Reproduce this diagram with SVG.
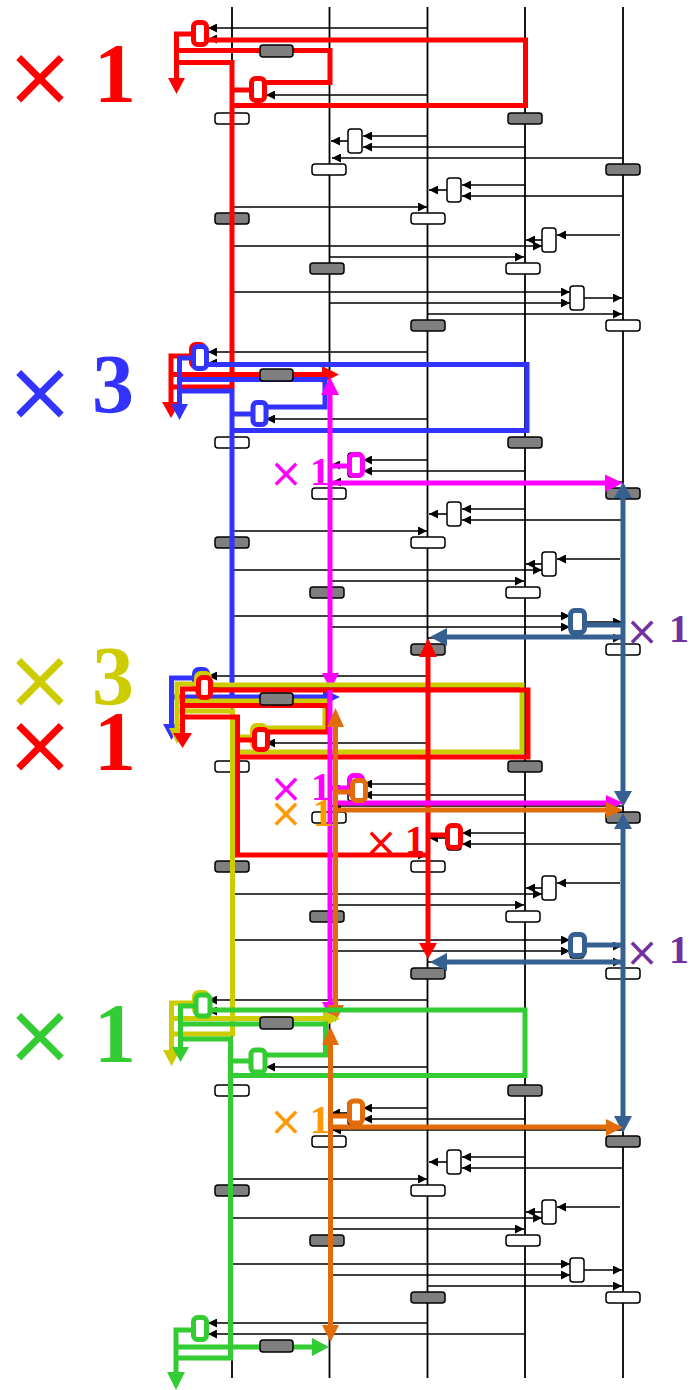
<svg xmlns="http://www.w3.org/2000/svg" width="693" height="1390" viewBox="0 0 693 1390">
<style>
.ll{stroke:#000;stroke-width:1.8}
.m{stroke:#000;stroke-width:1.6;fill:none;marker-end:url(#ah)}
.g{fill:#7f7f7f;stroke:#000;stroke-width:1.5}
.w{fill:#fff;stroke:#000;stroke-width:1.5}
.c{fill:none;stroke-width:5}
.cb{fill:#fff;stroke-width:5}
.t{stroke:none}
.x{font-family:"DejaVu Sans",sans-serif;font-weight:normal}
.n{font-family:"Liberation Serif",serif;font-weight:bold}
</style>
<defs>
<marker id="ah" viewBox="0 0 10 10" refX="10" refY="5" markerWidth="9" markerHeight="9" markerUnits="userSpaceOnUse" orient="auto"><path d="M0 0L10 5L0 10z" fill="#000"/></marker>
</defs>
<rect width="693" height="1390" fill="#fff"/>
<g id="lifelines">
<line class="ll" x1="232" y1="7" x2="232" y2="1378"/>
<line class="ll" x1="329.5" y1="7" x2="329.5" y2="1378"/>
<line class="ll" x1="427.5" y1="7" x2="427.5" y2="1378"/>
<line class="ll" x1="525" y1="7" x2="525" y2="1378"/>
<line class="ll" x1="623" y1="7" x2="623" y2="1378"/>
</g>
<g id="connectors">
<g id="blk1">
<path class="m" d="M428 28H208"/><path class="m" d="M525 39H208"/><path class="m" d="M428 95H266"/>
<path class="m" d="M428 136H363"/><path class="m" d="M525 147H363"/><path class="m" d="M348 141H331"/>
<path class="m" d="M623 158H332"/><path class="m" d="M525 185H462"/><path class="m" d="M623 196H462"/>
<path class="m" d="M447 190H429"/><path class="m" d="M232 207H427"/><path class="m" d="M620 235H557"/>
<path class="m" d="M542 240H526"/><path class="m" d="M232 246H542"/><path class="m" d="M330 257H524"/>
<path class="m" d="M232 292H570"/><path class="m" d="M330 303H570"/><path class="m" d="M584 298H622"/>
<path class="m" d="M428 314H622"/>
</g>
<g id="blk2" transform="translate(0,324)">
<path class="m" d="M428 28H208"/><path class="m" d="M525 39H208"/><path class="m" d="M428 95H266"/>
<path class="m" d="M428 136H363"/><path class="m" d="M525 147H363"/><path class="m" d="M348 141H331"/>
<path class="m" d="M623 158H332"/><path class="m" d="M525 185H462"/><path class="m" d="M623 196H462"/>
<path class="m" d="M447 190H429"/><path class="m" d="M232 207H427"/><path class="m" d="M620 235H557"/>
<path class="m" d="M542 240H526"/><path class="m" d="M232 246H542"/><path class="m" d="M330 257H524"/>
<path class="m" d="M232 292H570"/><path class="m" d="M330 303H570"/><path class="m" d="M584 298H622"/>
<path class="m" d="M428 314H622"/>
</g>
<g id="blk3" transform="translate(0,648)">
<path class="m" d="M428 28H208"/><path class="m" d="M525 39H208"/><path class="m" d="M428 95H266"/>
<path class="m" d="M428 136H363"/><path class="m" d="M525 147H363"/><path class="m" d="M348 141H331"/>
<path class="m" d="M623 158H332"/><path class="m" d="M525 185H462"/><path class="m" d="M623 196H462"/>
<path class="m" d="M447 190H429"/><path class="m" d="M232 207H427"/><path class="m" d="M620 235H557"/>
<path class="m" d="M542 240H526"/><path class="m" d="M232 246H542"/><path class="m" d="M330 257H524"/>
<path class="m" d="M232 292H570"/><path class="m" d="M330 303H570"/><path class="m" d="M584 298H622"/>
<path class="m" d="M428 314H622"/>
</g>
<g id="blk4" transform="translate(0,972)">
<path class="m" d="M428 28H208"/><path class="m" d="M525 39H208"/><path class="m" d="M428 95H266"/>
<path class="m" d="M428 136H363"/><path class="m" d="M525 147H363"/><path class="m" d="M348 141H331"/>
<path class="m" d="M623 158H332"/><path class="m" d="M525 185H462"/><path class="m" d="M623 196H462"/>
<path class="m" d="M447 190H429"/><path class="m" d="M232 207H427"/><path class="m" d="M620 235H557"/>
<path class="m" d="M542 240H526"/><path class="m" d="M232 246H542"/><path class="m" d="M330 257H524"/>
<path class="m" d="M232 292H570"/><path class="m" d="M330 303H570"/><path class="m" d="M584 298H622"/>
<path class="m" d="M428 314H622"/>
</g>
<g id="blk5" transform="translate(0,1296)">
<path class="m" d="M428 27H208"/><path class="m" d="M525 38H208"/>
</g>
</g>
<g id="states">
<g id="st1">
<rect class="w" x="215" y="113" width="34" height="11" rx="3"/><rect class="g" x="508" y="113" width="34" height="11" rx="3"/>
<rect class="w" x="312" y="164" width="34" height="11" rx="3"/><rect class="g" x="606" y="164" width="34" height="11" rx="3"/>
<rect class="g" x="215" y="213" width="34" height="11" rx="3"/><rect class="w" x="411" y="213" width="34" height="11" rx="3"/>
<rect class="g" x="310" y="263" width="34" height="11" rx="3"/><rect class="w" x="506" y="263" width="34" height="11" rx="3"/>
<rect class="g" x="411" y="320" width="34" height="11" rx="3"/><rect class="w" x="606" y="320" width="34" height="11" rx="3"/>
<rect class="w" x="348" y="129" width="14" height="24" rx="3"/><rect class="w" x="447" y="178" width="14" height="24" rx="3"/>
<rect class="w" x="542" y="228" width="14" height="24" rx="3"/><rect class="w" x="570" y="286" width="14" height="24" rx="3"/>
</g>
<g id="st2" transform="translate(0,324)">
<rect class="w" x="215" y="113" width="34" height="11" rx="3"/><rect class="g" x="508" y="113" width="34" height="11" rx="3"/>
<rect class="w" x="312" y="164" width="34" height="11" rx="3"/><rect class="g" x="606" y="164" width="34" height="11" rx="3"/>
<rect class="g" x="215" y="213" width="34" height="11" rx="3"/><rect class="w" x="411" y="213" width="34" height="11" rx="3"/>
<rect class="g" x="310" y="263" width="34" height="11" rx="3"/><rect class="w" x="506" y="263" width="34" height="11" rx="3"/>
<rect class="g" x="411" y="320" width="34" height="11" rx="3"/><rect class="w" x="606" y="320" width="34" height="11" rx="3"/>
<rect class="w" x="348" y="129" width="14" height="24" rx="3"/><rect class="w" x="447" y="178" width="14" height="24" rx="3"/>
<rect class="w" x="542" y="228" width="14" height="24" rx="3"/><rect class="w" x="570" y="286" width="14" height="24" rx="3"/>
</g>
<g id="st3" transform="translate(0,648)">
<rect class="w" x="215" y="113" width="34" height="11" rx="3"/><rect class="g" x="508" y="113" width="34" height="11" rx="3"/>
<rect class="w" x="312" y="164" width="34" height="11" rx="3"/><rect class="g" x="606" y="164" width="34" height="11" rx="3"/>
<rect class="g" x="215" y="213" width="34" height="11" rx="3"/><rect class="w" x="411" y="213" width="34" height="11" rx="3"/>
<rect class="g" x="310" y="263" width="34" height="11" rx="3"/><rect class="w" x="506" y="263" width="34" height="11" rx="3"/>
<rect class="g" x="411" y="320" width="34" height="11" rx="3"/><rect class="w" x="606" y="320" width="34" height="11" rx="3"/>
<rect class="w" x="348" y="129" width="14" height="24" rx="3"/><rect class="w" x="447" y="178" width="14" height="24" rx="3"/>
<rect class="w" x="542" y="228" width="14" height="24" rx="3"/><rect class="w" x="570" y="286" width="14" height="24" rx="3"/>
</g>
<g id="st4" transform="translate(0,972)">
<rect class="w" x="215" y="113" width="34" height="11" rx="3"/><rect class="g" x="508" y="113" width="34" height="11" rx="3"/>
<rect class="w" x="312" y="164" width="34" height="11" rx="3"/><rect class="g" x="606" y="164" width="34" height="11" rx="3"/>
<rect class="g" x="215" y="213" width="34" height="11" rx="3"/><rect class="w" x="411" y="213" width="34" height="11" rx="3"/>
<rect class="g" x="310" y="263" width="34" height="11" rx="3"/><rect class="w" x="506" y="263" width="34" height="11" rx="3"/>
<rect class="g" x="411" y="320" width="34" height="11" rx="3"/><rect class="w" x="606" y="320" width="34" height="11" rx="3"/>
<rect class="w" x="348" y="129" width="14" height="24" rx="3"/><rect class="w" x="447" y="178" width="14" height="24" rx="3"/>
<rect class="w" x="542" y="228" width="14" height="24" rx="3"/><rect class="w" x="570" y="286" width="14" height="24" rx="3"/>
</g>
</g>
<g id="red-loop-1" stroke="#f00" fill="#f00">
<path class="c" d="M193 34H176.5V80"/>
<path class="c" d="M176.5 50.5H330V82.5H265"/>
<path class="c" d="M176.5 62.5H232V387H171"/>
<path class="c" d="M232 90H252"/>
<path class="c" d="M207 40H525.5V105.5H232"/>
<polygon class="t" points="168,78 185,78 176.5,94"/>
<rect class="cb" x="193.5" y="22.5" width="13" height="22" rx="4"/>
<rect class="cb" x="251.5" y="78.5" width="13" height="22" rx="4"/>
</g>
<g id="red-end-2" stroke="#f00" fill="#f00">
<path class="c" d="M191 356H171V403"/>
<polygon class="t" points="162,402 180,402 171,418"/>
<path class="c" d="M171 374.5H323"/>
<polygon class="t" points="322,366 322,383 339,374.5"/>
<rect class="cb" x="191.5" y="344.5" width="13" height="22" rx="4"/>
</g>
<g id="blue-loop-2" stroke="#3333ff" fill="#3333ff">
<path class="c" d="M193 358H179.5V405"/>
<polygon class="t" points="171,404 188,404 179.5,420"/>
<path class="c" d="M179.5 379.5H325V407H266"/>
<path class="c" d="M179.5 391H232V697"/>
<path class="c" d="M232 414H253"/>
<path class="c" d="M207 364.5H527V430.5H232"/>
<rect class="cb" x="193.5" y="346.5" width="13" height="22" rx="4"/>
<rect class="cb" x="253" y="402.5" width="13" height="22" rx="4"/>
</g>
<g id="magenta-2" stroke="#ff00ff" fill="#ff00ff">
<path class="c" d="M330 394V674"/>
<polygon class="t" points="321,395 339,395 330,377"/>
<polygon class="t" points="322,673 339,673 330.5,690"/>
<path class="c" d="M330 466H350"/>
<path class="c" d="M330 483H606"/>
<polygon class="t" points="605,474.5 605,492 623,483"/>
<rect class="cb" x="349.5" y="454.5" width="13" height="21" rx="4"/>
</g>
<g id="steel-2" stroke="#376092" fill="#376092">
<path class="c" d="M623 497V792"/>
<polygon class="t" points="614,498 632,498 623,482"/>
<polygon class="t" points="614,791 632,791 623,807"/>
<path class="c" d="M586 625H623"/>
<path class="c" d="M623 637H446"/>
<polygon class="t" points="447,628 447,646 430,637"/>
<rect class="cb" x="570.5" y="610.5" width="14" height="22" rx="4"/>
</g>
<g id="blue-end-3" stroke="#3333ff" fill="#3333ff">
<path class="c" d="M192 678H171.5V725"/>
<polygon class="t" points="163,724 180,724 171.5,740"/>
<path class="c" d="M171.5 697H324"/>
<polygon class="t" points="323,689 323,705 340,697"/>
<rect class="cb" x="194.5" y="669.5" width="13" height="18" rx="4"/>
</g>
<g id="yellow-loop-3" stroke="#cccc00" fill="#cccc00">
<path class="c" d="M195 684H177V729"/>
<polygon class="t" points="169,728 186,728 177,744"/>
<path class="c" d="M177 701H325V728H266"/>
<path class="c" d="M177 711H232.5V1034H171"/>
<path class="c" d="M232.5 737H252"/>
<path class="c" d="M209 685H522V752H232.5"/>
<rect class="cb" x="196.5" y="673.5" width="13" height="20" rx="4"/>
<rect class="cb" x="252.5" y="725.5" width="13" height="22" rx="4"/>
</g>
<g id="red-loop-3" stroke="#f00" fill="#f00">
<path class="c" d="M197 689H182.5V734"/>
<polygon class="t" points="173,733 192,733 182.5,748"/>
<path class="c" d="M182.5 705.5H328V732H268"/>
<path class="c" d="M182.5 717H237.5V855H428"/>
<path class="c" d="M237.5 740H254"/>
<path class="c" d="M211 690H528V757H237.5"/>
<rect class="cb" x="198.5" y="677.5" width="12" height="20" rx="4"/>
<rect class="cb" x="254.5" y="729.5" width="13" height="20" rx="4"/>
</g>
<g id="red-428" stroke="#f00" fill="#f00">
<path class="c" d="M428 656V944"/>
<polygon class="t" points="419,657 437,657 428,638"/>
<polygon class="t" points="419,943 437,943 428,959"/>
<path class="c" d="M428 835H448"/>
<rect class="cb" x="447.5" y="825.5" width="13" height="22" rx="4"/>
</g>
<g id="magenta-3" stroke="#ff00ff" fill="#ff00ff">
<path class="c" d="M330 690V1003"/>
<polygon class="t" points="322,1002 338,1002 330,1018"/>
<path class="c" d="M330 788H350"/>
<path class="c" d="M333 803H607"/>
<polygon class="t" points="606,795 606,811 623,803"/>
<rect class="cb" x="349.5" y="775.5" width="13" height="20" rx="4"/>
</g>
<g id="orange-3" stroke="#e36c0a" fill="#e36c0a">
<path class="c" d="M335.5 726V1006"/>
<polygon class="t" points="327,727 344,727 335.5,708"/>
<polygon class="t" points="327,1005 344,1005 335.5,1022"/>
<path class="c" d="M335.5 792H353"/>
<path class="c" d="M336 810H607"/>
<polygon class="t" points="606,802 606,818 623,810"/>
<rect class="cb" x="352.5" y="780.5" width="13" height="20" rx="4"/>
</g>
<g id="steel-3" stroke="#376092" fill="#376092">
<path class="c" d="M623 828V1117"/>
<polygon class="t" points="614,829 632,829 623,813"/>
<polygon class="t" points="614,1116 632,1116 623,1133"/>
<path class="c" d="M586 945H623"/>
<path class="c" d="M623 962H446"/>
<polygon class="t" points="447,953 447,971 430,962"/>
<rect class="cb" x="570.5" y="934.5" width="14" height="21" rx="4"/>
</g>
<g id="yellow-end-4" stroke="#cccc00" fill="#cccc00">
<path class="c" d="M193 1003H171.5V1051"/>
<polygon class="t" points="163,1050 180,1050 171.5,1066"/>
<path class="c" d="M171.5 1018.5H324"/>
<polygon class="t" points="323,1010 323,1027 340,1018.5"/>
<rect class="cb" x="194.5" y="992.5" width="13" height="21" rx="4"/>
</g>
<g id="green-loop-4" stroke="#33cc33" fill="#33cc33">
<path class="c" d="M195 1006H180.5V1048"/>
<polygon class="t" points="172,1047 189,1047 180.5,1062"/>
<path class="c" d="M180.5 1024H325.5V1055H266"/>
<path class="c" d="M180.5 1039H230.5V1358H176"/>
<path class="c" d="M230.5 1061H251"/>
<path class="c" d="M210 1010H525V1075.5H230.5"/>
<rect class="cb" x="196" y="995" width="14" height="21" rx="4"/>
<rect class="cb" x="251" y="1050" width="14" height="22" rx="4"/>
</g>
<g id="orange-4" stroke="#e36c0a" fill="#e36c0a">
<path class="c" d="M330.5 1044V1326"/>
<polygon class="t" points="322,1045 339,1045 330.5,1027"/>
<polygon class="t" points="322,1325 339,1325 330.5,1342"/>
<path class="c" d="M330.5 1116H349"/>
<path class="c" d="M330.5 1127H607"/>
<polygon class="t" points="606,1119 606,1136 623,1127.5"/>
<rect class="cb" x="349.5" y="1101" width="13" height="22" rx="4"/>
</g>
<g id="green-end-5" stroke="#33cc33" fill="#33cc33">
<path class="c" d="M193 1330H176V1373"/>
<polygon class="t" points="167,1372 185,1372 176,1390"/>
<path class="c" d="M176 1347H313"/>
<polygon class="t" points="312,1338 312,1356 329,1347"/>
<rect class="cb" x="193.5" y="1317.5" width="13" height="22" rx="4"/>
</g>
<g id="outputs">
<rect class="g" x="260" y="45" width="33" height="12" rx="3"/>
<rect class="g" x="260" y="369" width="33" height="12" rx="3"/>
<rect class="g" x="260" y="693" width="33" height="12" rx="3"/>
<rect class="g" x="260" y="1017" width="33" height="12" rx="3"/>
<rect class="g" x="260" y="1340" width="33" height="12" rx="3"/>
</g>
<g id="labels">
<g fill="#f00"><text class="x" x="40" y="105" font-size="84" text-anchor="middle">×</text><text class="n" x="115" y="102" font-size="84" text-anchor="middle">1</text></g>
<g fill="#3333ff"><text class="x" x="40" y="420" font-size="84" text-anchor="middle">×</text><text class="n" x="113" y="413" font-size="84" text-anchor="middle">3</text></g>
<g fill="#cccc00"><text class="x" x="40" y="708" font-size="84" text-anchor="middle">×</text><text class="n" x="113" y="705" font-size="84" text-anchor="middle">3</text></g>
<g fill="#f00"><text class="x" x="40" y="773" font-size="84" text-anchor="middle">×</text><text class="n" x="115" y="770" font-size="84" text-anchor="middle">1</text></g>
<g fill="#33cc33"><text class="x" x="40" y="1063" font-size="84" text-anchor="middle">×</text><text class="n" x="115" y="1062" font-size="84" text-anchor="middle">1</text></g>
<g fill="#ff00ff"><text class="x" x="286" y="487" font-size="40" text-anchor="middle">×</text><text class="n" x="320" y="485" font-size="40" text-anchor="middle">1</text></g>
<g fill="#ff00ff"><text class="x" x="286" y="802" font-size="40" text-anchor="middle">×</text><text class="n" x="321" y="800" font-size="40" text-anchor="middle">1</text></g>
<g fill="#ff9900"><text class="x" x="286" y="827" font-size="40" text-anchor="middle">×</text><text class="n" x="323" y="826" font-size="40" text-anchor="middle">1</text></g>
<g fill="#f00"><text class="x" x="381" y="856" font-size="40" text-anchor="middle">×</text><text class="n" x="415" y="853" font-size="40" text-anchor="middle">1</text></g>
<g fill="#ff9900"><text class="x" x="286" y="1135" font-size="40" text-anchor="middle">×</text><text class="n" x="320" y="1133" font-size="40" text-anchor="middle">1</text></g>
<g fill="#7030a0"><text class="x" x="642" y="645" font-size="40" text-anchor="middle">×</text><text class="n" x="679" y="642" font-size="40" text-anchor="middle">1</text></g>
<g fill="#7030a0"><text class="x" x="642" y="966" font-size="40" text-anchor="middle">×</text><text class="n" x="679" y="963" font-size="40" text-anchor="middle">1</text></g>
</g>
</svg>
